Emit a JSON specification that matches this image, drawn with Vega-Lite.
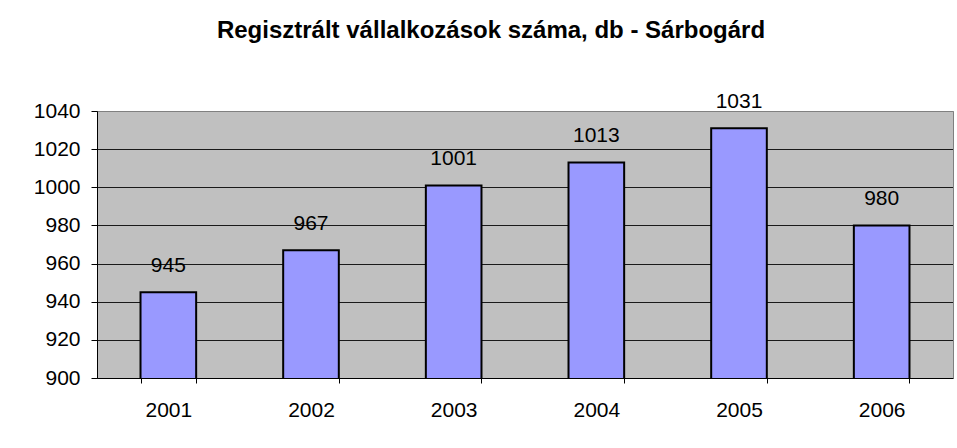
{
  "$schema": "https://vega.github.io/schema/vega-lite/v6.json",
  "autosize": "none",
  "width": 856,
  "height": 267,
  "padding": {"left": 97, "top": 111, "right": 4, "bottom": 70},
  "background": "white",
  "title": {
    "text": "Regisztrált vállalkozások száma, db - Sárbogárd",
    "font": "Liberation Sans",
    "fontSize": 24,
    "fontWeight": "bold",
    "color": "black",
    "anchor": "middle",
    "baseline": "alphabetic",
    "offset": 29,
    "dx": -34
  },
  "data": {
    "values": [
      {"year": "2001", "value": 945},
      {"year": "2002", "value": 967},
      {"year": "2003", "value": 1001},
      {"year": "2004", "value": 1013},
      {"year": "2005", "value": 1031},
      {"year": "2006", "value": 980}
    ]
  },
  "encoding": {
    "x": {
      "field": "year",
      "type": "nominal",
      "sort": null,
      "scale": {"paddingInner": 0.61, "paddingOuter": 0.305}
    },
    "y": {
      "field": "value",
      "type": "quantitative",
      "scale": {"domain": [900, 1040], "nice": false, "zero": false}
    }
  },
  "layer": [
    {
      "mark": {"type": "bar", "color": "#9999FF", "stroke": "black", "strokeWidth": 2, "clip": true},
      "encoding": {
        "x": {
          "field": "year",
          "type": "nominal",
          "sort": null,
          "axis": {
            "title": null,
            "labelAngle": 0,
            "labelFont": "Liberation Sans",
            "labelFontSize": 21,
            "labelColor": "black",
            "labelPadding": 16,
            "tickBand": "extent",
            "tickSize": 5,
            "tickColor": "black",
            "domainColor": "black",
            "grid": false
          }
        },
        "y": {
          "field": "value",
          "type": "quantitative",
          "axis": {
            "title": null,
            "format": "d",
            "values": [900, 920, 940, 960, 980, 1000, 1020, 1040],
            "labelFont": "Liberation Sans",
            "labelFontSize": 21,
            "labelColor": "black",
            "labelPadding": 11,
            "tickSize": 6,
            "tickColor": "black",
            "domainColor": "black",
            "grid": true,
            "gridColor": {"condition": {"test": "datum.value === 1040", "value": "#808080"}, "value": "#1a1a1a"},
            "gridOpacity": 1,
            "labelFlush": false
          }
        }
      }
    },
    {
      "mark": {"type": "text", "font": "Liberation Sans", "fontSize": 21, "color": "black", "baseline": "alphabetic", "dy": -20},
      "encoding": {
        "x": {
          "field": "year",
          "type": "nominal",
          "sort": null,
          "axis": {"orient": "top", "title": null, "labels": false, "ticks": false, "grid": false, "domainColor": "#808080"}
        },
        "y": {
          "field": "value",
          "type": "quantitative",
          "axis": {"orient": "right", "title": null, "labels": false, "ticks": false, "grid": false, "domainColor": "#808080"}
        },
        "text": {"field": "value", "type": "quantitative", "format": "d"}
      }
    }
  ],
  "resolve": {"axis": {"x": "independent", "y": "independent"}},
  "config": {
    "view": {"fill": "#C0C0C0", "stroke": null},
    "axis": {"domainWidth": 1, "tickWidth": 1, "gridWidth": 1}
  }
}
